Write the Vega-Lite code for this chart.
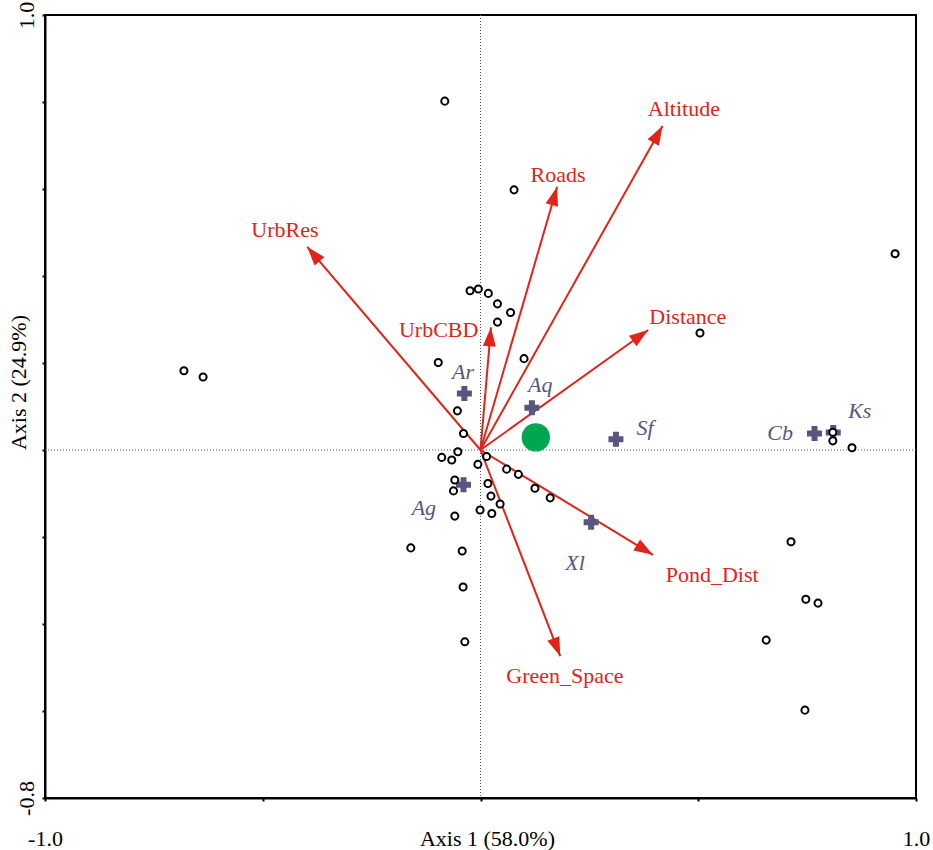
{
  "$schema": "https://vega.github.io/schema/vega-lite/v6.json",
  "width": 871,
  "height": 783,
  "autosize": {"type": "none"},
  "padding": {"left": 45, "top": 15, "right": 17, "bottom": 52},
  "background": "white",
  "config": {"view": {"stroke": "black", "strokeWidth": 2}, "font": "Liberation Serif"},
  "datasets": {
    "sites": [
      {"x": -0.082, "y": 0.802}, {"x": 0.077, "y": 0.598}, {"x": 0.952, "y": 0.451},
      {"x": -0.681, "y": 0.182}, {"x": -0.637, "y": 0.168}, {"x": -0.024, "y": 0.366},
      {"x": -0.005, "y": 0.370}, {"x": 0.018, "y": 0.360}, {"x": 0.039, "y": 0.336},
      {"x": 0.069, "y": 0.316}, {"x": 0.039, "y": 0.294}, {"x": -0.097, "y": 0.201},
      {"x": 0.100, "y": 0.210}, {"x": 0.504, "y": 0.269}, {"x": -0.053, "y": 0.090},
      {"x": -0.039, "y": 0.038}, {"x": -0.052, "y": -0.004}, {"x": -0.089, "y": -0.017},
      {"x": -0.066, "y": -0.023}, {"x": 0.014, "y": -0.015}, {"x": -0.006, "y": -0.033},
      {"x": 0.060, "y": -0.044}, {"x": 0.087, "y": -0.056}, {"x": -0.059, "y": -0.069},
      {"x": -0.062, "y": -0.094}, {"x": 0.017, "y": -0.077}, {"x": 0.125, "y": -0.088},
      {"x": 0.160, "y": -0.110}, {"x": 0.024, "y": -0.106}, {"x": 0.045, "y": -0.124},
      {"x": -0.001, "y": -0.138}, {"x": 0.026, "y": -0.146}, {"x": -0.059, "y": -0.152},
      {"x": -0.160, "y": -0.225}, {"x": -0.042, "y": -0.232}, {"x": -0.040, "y": -0.315},
      {"x": -0.036, "y": -0.441}, {"x": 0.713, "y": -0.211}, {"x": 0.747, "y": -0.343},
      {"x": 0.775, "y": -0.352}, {"x": 0.656, "y": -0.437}, {"x": 0.745, "y": -0.598},
      {"x": 0.809, "y": 0.041}, {"x": 0.809, "y": 0.021}, {"x": 0.853, "y": 0.005}
    ],
    "env": [
      {"name": "Altitude", "x": 0.418, "y": 0.745, "lx": 0.467, "ly": 0.784},
      {"name": "Roads", "x": 0.176, "y": 0.605, "lx": 0.178, "ly": 0.632},
      {"name": "UrbRes", "x": -0.398, "y": 0.467, "lx": -0.449, "ly": 0.506},
      {"name": "UrbCBD", "x": 0.024, "y": 0.282, "lx": -0.096, "ly": 0.277},
      {"name": "Distance", "x": 0.385, "y": 0.276, "lx": 0.476, "ly": 0.306},
      {"name": "Pond_Dist", "x": 0.396, "y": -0.241, "lx": 0.532, "ly": -0.287},
      {"name": "Green_Space", "x": 0.183, "y": -0.474, "lx": 0.194, "ly": -0.520}
    ],
    "species": [
      {"name": "Ar", "x": -0.037, "y": 0.130, "lx": -0.040, "ly": 0.179},
      {"name": "Aq", "x": 0.118, "y": 0.097, "lx": 0.137, "ly": 0.149},
      {"name": "Sf", "x": 0.311, "y": 0.025, "lx": 0.378, "ly": 0.051},
      {"name": "Cb", "x": 0.767, "y": 0.038, "lx": 0.688, "ly": 0.039},
      {"name": "Ks", "x": 0.810, "y": 0.040, "lx": 0.871, "ly": 0.090},
      {"name": "Ag", "x": -0.039, "y": -0.080, "lx": -0.130, "ly": -0.133},
      {"name": "Xl", "x": 0.254, "y": -0.166, "lx": 0.217, "ly": -0.260}
    ],
    "centroid": [{"x": 0.127, "y": 0.029}]
  },
  "layer": [
    {
      "data": {"name": "centroid"},
      "mark": {"type": "rule", "color": "#555555", "strokeWidth": 1, "strokeDash": [1, 2]},
      "encoding": {
        "y": {"datum": 0, "type": "quantitative", "scale": {"domain": [-0.8, 1], "nice": false, "zero": false},
          "axis": {
            "values": [-0.8, -0.6, -0.4, -0.2, 0, 0.2, 0.4, 0.6, 0.8, 1.0],
            "grid": false, "domainColor": "black", "domainWidth": 2, "tickColor": "black", "tickWidth": 2, "tickSize": 3,
            "labelExpr": "datum.value >= 0.99 ? '1.0' : (datum.value <= -0.79 ? '-0.8' : '')",
            "labelAngle": -90, "labelAlign": "center", "labelBaseline": "alphabetic", "labelPadding": 9,
            "labelFontSize": 22, "labelColor": "black", "labelFont": "Liberation Serif", "labelOverlap": false, "labelFlush": false,
            "title": "Axis 2 (24.9%)", "titleFont": "Liberation Serif", "titleFontSize": 22, "titleFontWeight": "normal", "titleColor": "black",
            "titleAngle": -90, "titleAlign": "center", "titleBaseline": "alphabetic", "titleX": -20, "titleY": 367
          }
        }
      }
    },
    {
      "data": {"name": "centroid"},
      "mark": {"type": "rule", "color": "#555555", "strokeWidth": 1, "strokeDash": [1, 2]},
      "encoding": {
        "x": {"datum": 0, "type": "quantitative", "scale": {"domain": [-1, 1], "nice": false, "zero": false},
          "axis": {
            "values": [-1, -0.5, 0, 0.5, 1],
            "grid": false, "domainColor": "black", "domainWidth": 2, "tickColor": "black", "tickWidth": 2, "tickSize": 3,
            "labelExpr": "datum.value <= -0.99 ? '-1.0' : (datum.value >= 0.99 ? '1.0' : '')",
            "labelBaseline": "alphabetic", "labelPadding": 44, "labelFontSize": 22, "labelColor": "black",
            "labelFont": "Liberation Serif", "labelOverlap": false, "labelFlush": false,
            "title": "Axis 1 (58.0%)", "titleFont": "Liberation Serif", "titleFontSize": 22, "titleFontWeight": "normal", "titleColor": "black",
            "titleAlign": "center", "titleBaseline": "alphabetic", "titleX": 442, "titleY": 47
          }
        }
      }
    },
    {
      "data": {"name": "env"},
      "mark": {"type": "rule", "color": "#e2231a", "strokeWidth": 2},
      "encoding": {
        "x": {"field": "x", "type": "quantitative"},
        "y": {"field": "y", "type": "quantitative"},
        "x2": {"datum": 0},
        "y2": {"datum": 0}
      }
    },
    {
      "data": {"name": "env"},
      "transform": [{"calculate": "atan2(datum.x, datum.y) * 180 / PI", "as": "angle"}],
      "mark": {"type": "point", "shape": "M0,0L0.34,1L-0.34,1Z", "filled": true, "color": "#e2231a", "opacity": 1, "size": 1444, "strokeWidth": 0},
      "encoding": {
        "x": {"field": "x", "type": "quantitative"},
        "y": {"field": "y", "type": "quantitative"},
        "angle": {"field": "angle", "type": "quantitative", "scale": null}
      }
    },
    {
      "data": {"name": "species"},
      "mark": {"type": "point", "shape": "cross", "filled": true, "color": "#58557f", "opacity": 1, "size": 225, "strokeWidth": 0},
      "encoding": {
        "x": {"field": "x", "type": "quantitative"},
        "y": {"field": "y", "type": "quantitative"}
      }
    },
    {
      "data": {"name": "sites"},
      "mark": {"type": "point", "shape": "circle", "filled": false, "fill": "white", "fillOpacity": 1, "stroke": "black", "strokeWidth": 2, "opacity": 1, "size": 50},
      "encoding": {
        "x": {"field": "x", "type": "quantitative"},
        "y": {"field": "y", "type": "quantitative"}
      }
    },
    {
      "data": {"name": "centroid"},
      "mark": {"type": "point", "shape": "circle", "filled": true, "color": "#00a651", "opacity": 1, "size": 804},
      "encoding": {
        "x": {"field": "x", "type": "quantitative"},
        "y": {"field": "y", "type": "quantitative"}
      }
    },
    {
      "data": {"name": "env"},
      "mark": {"type": "text", "color": "#e2231a", "fontSize": 22, "font": "Liberation Serif", "align": "center", "baseline": "middle"},
      "encoding": {
        "x": {"field": "lx", "type": "quantitative"},
        "y": {"field": "ly", "type": "quantitative"},
        "text": {"field": "name"}
      }
    },
    {
      "data": {"name": "species"},
      "mark": {"type": "text", "color": "#58557f", "fontSize": 22, "font": "Liberation Serif", "fontStyle": "italic", "align": "center", "baseline": "middle"},
      "encoding": {
        "x": {"field": "lx", "type": "quantitative"},
        "y": {"field": "ly", "type": "quantitative"},
        "text": {"field": "name"}
      }
    }
  ]
}
